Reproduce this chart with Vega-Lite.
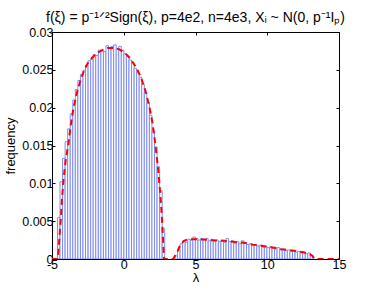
{
  "$schema": "https://vega.github.io/schema/vega-lite/v6.json",
  "autosize": {"type": "none"},
  "width": 287,
  "height": 227,
  "padding": {"left": 52, "top": 32, "right": 35, "bottom": 33},
  "background": "white",
  "config": {
    "view": {"stroke": null},
    "font": "Liberation Sans",
    "axis": {"grid": false, "domainColor": "#000000", "tickColor": "#000000", "labelColor": "#000000", "titleColor": "#000000", "labelFont": "Liberation Sans", "titleFont": "Liberation Sans", "labelFontSize": 12.5, "titleFontSize": 13, "titleFontWeight": "normal", "tickSize": -3, "labelPadding": 2}
  },
  "title": {"text": "f(ξ) = p⁻¹ᐟ²Sign(ξ), p=4e2, n=4e3, Xᵢ ~ N(0, p⁻¹Iₚ)", "font": "Liberation Sans", "fontSize": 14, "fontWeight": "normal", "color": "#000000", "anchor": "middle", "baseline": "bottom", "offset": -13},
  "datasets": {
    "bars": [
      {"lo": -4.620, "hi": -4.442, "f": 0.0055},
      {"lo": -4.442, "hi": -4.264, "f": 0.0102},
      {"lo": -4.264, "hi": -4.086, "f": 0.0133},
      {"lo": -4.086, "hi": -3.908, "f": 0.0155},
      {"lo": -3.908, "hi": -3.730, "f": 0.0172},
      {"lo": -3.730, "hi": -3.552, "f": 0.0192},
      {"lo": -3.552, "hi": -3.374, "f": 0.0210},
      {"lo": -3.374, "hi": -3.196, "f": 0.0224},
      {"lo": -3.196, "hi": -3.018, "f": 0.0236},
      {"lo": -3.018, "hi": -2.840, "f": 0.0244},
      {"lo": -2.840, "hi": -2.662, "f": 0.0249},
      {"lo": -2.662, "hi": -2.484, "f": 0.0256},
      {"lo": -2.484, "hi": -2.306, "f": 0.0262},
      {"lo": -2.306, "hi": -2.128, "f": 0.0264},
      {"lo": -2.128, "hi": -1.950, "f": 0.0270},
      {"lo": -1.950, "hi": -1.772, "f": 0.0269},
      {"lo": -1.772, "hi": -1.594, "f": 0.0276},
      {"lo": -1.594, "hi": -1.416, "f": 0.0275},
      {"lo": -1.416, "hi": -1.238, "f": 0.0274},
      {"lo": -1.238, "hi": -1.060, "f": 0.0282},
      {"lo": -1.060, "hi": -0.882, "f": 0.0278},
      {"lo": -0.882, "hi": -0.704, "f": 0.0281},
      {"lo": -0.704, "hi": -0.526, "f": 0.0283},
      {"lo": -0.526, "hi": -0.348, "f": 0.0278},
      {"lo": -0.348, "hi": -0.170, "f": 0.0281},
      {"lo": -0.170, "hi": 0.008, "f": 0.0276},
      {"lo": 0.008, "hi": 0.186, "f": 0.0271},
      {"lo": 0.186, "hi": 0.364, "f": 0.0268},
      {"lo": 0.364, "hi": 0.542, "f": 0.0263},
      {"lo": 0.542, "hi": 0.720, "f": 0.0259},
      {"lo": 0.720, "hi": 0.898, "f": 0.0252},
      {"lo": 0.898, "hi": 1.076, "f": 0.0246},
      {"lo": 1.076, "hi": 1.254, "f": 0.0240},
      {"lo": 1.254, "hi": 1.432, "f": 0.0231},
      {"lo": 1.432, "hi": 1.610, "f": 0.0220},
      {"lo": 1.610, "hi": 1.788, "f": 0.0207},
      {"lo": 1.788, "hi": 1.966, "f": 0.0190},
      {"lo": 1.966, "hi": 2.144, "f": 0.0170},
      {"lo": 2.144, "hi": 2.322, "f": 0.0148},
      {"lo": 2.322, "hi": 2.500, "f": 0.0122},
      {"lo": 2.500, "hi": 2.678, "f": 0.0090},
      {"lo": 2.678, "hi": 2.856, "f": 0.0040},
      {"lo": 3.568, "hi": 3.746, "f": 0.0004},
      {"lo": 3.746, "hi": 3.924, "f": 0.0013},
      {"lo": 3.924, "hi": 4.102, "f": 0.0020},
      {"lo": 4.102, "hi": 4.280, "f": 0.0024},
      {"lo": 4.280, "hi": 4.458, "f": 0.0022},
      {"lo": 4.458, "hi": 4.636, "f": 0.0026},
      {"lo": 4.636, "hi": 4.814, "f": 0.0025},
      {"lo": 4.814, "hi": 4.992, "f": 0.0029},
      {"lo": 4.992, "hi": 5.170, "f": 0.0027},
      {"lo": 5.170, "hi": 5.348, "f": 0.0025},
      {"lo": 5.348, "hi": 5.526, "f": 0.0027},
      {"lo": 5.526, "hi": 5.704, "f": 0.0026},
      {"lo": 5.704, "hi": 5.882, "f": 0.0027},
      {"lo": 5.882, "hi": 6.060, "f": 0.0024},
      {"lo": 6.060, "hi": 6.238, "f": 0.0026},
      {"lo": 6.238, "hi": 6.416, "f": 0.0024},
      {"lo": 6.416, "hi": 6.594, "f": 0.0025},
      {"lo": 6.594, "hi": 6.772, "f": 0.0023},
      {"lo": 6.772, "hi": 6.950, "f": 0.0025},
      {"lo": 6.950, "hi": 7.128, "f": 0.0022},
      {"lo": 7.128, "hi": 7.306, "f": 0.0027},
      {"lo": 7.306, "hi": 7.484, "f": 0.0023},
      {"lo": 7.484, "hi": 7.662, "f": 0.0024},
      {"lo": 7.662, "hi": 7.840, "f": 0.0021},
      {"lo": 7.840, "hi": 8.018, "f": 0.0023},
      {"lo": 8.018, "hi": 8.196, "f": 0.0020},
      {"lo": 8.196, "hi": 8.374, "f": 0.0024},
      {"lo": 8.374, "hi": 8.552, "f": 0.0021},
      {"lo": 8.552, "hi": 8.730, "f": 0.0019},
      {"lo": 8.730, "hi": 8.908, "f": 0.0020},
      {"lo": 8.908, "hi": 9.086, "f": 0.0018},
      {"lo": 9.086, "hi": 9.264, "f": 0.0019},
      {"lo": 9.264, "hi": 9.442, "f": 0.0017},
      {"lo": 9.442, "hi": 9.620, "f": 0.0018},
      {"lo": 9.620, "hi": 9.798, "f": 0.0016},
      {"lo": 9.798, "hi": 9.976, "f": 0.0017},
      {"lo": 9.976, "hi": 10.154, "f": 0.0015},
      {"lo": 10.154, "hi": 10.332, "f": 0.0016},
      {"lo": 10.332, "hi": 10.510, "f": 0.0014},
      {"lo": 10.510, "hi": 10.688, "f": 0.0013},
      {"lo": 10.688, "hi": 10.866, "f": 0.0015},
      {"lo": 10.866, "hi": 11.044, "f": 0.0012},
      {"lo": 11.044, "hi": 11.222, "f": 0.0013},
      {"lo": 11.222, "hi": 11.400, "f": 0.0011},
      {"lo": 11.400, "hi": 11.578, "f": 0.0012},
      {"lo": 11.578, "hi": 11.756, "f": 0.0010},
      {"lo": 11.756, "hi": 11.934, "f": 0.0011},
      {"lo": 11.934, "hi": 12.112, "f": 0.0009},
      {"lo": 12.112, "hi": 12.290, "f": 0.0010},
      {"lo": 12.290, "hi": 12.468, "f": 0.0008},
      {"lo": 12.468, "hi": 12.646, "f": 0.0009},
      {"lo": 12.646, "hi": 12.824, "f": 0.0007},
      {"lo": 12.824, "hi": 13.002, "f": 0.0008},
      {"lo": 13.002, "hi": 13.180, "f": 0.0005}
    ],
    "curve": [
      {"x": -5, "y": 0}, {"x": -4.6, "y": 0}, {"x": -4.53, "y": 0.0015}, {"x": -4.45, "y": 0.0038},
      {"x": -4.39, "y": 0.0052}, {"x": -4.3, "y": 0.0080}, {"x": -4.2, "y": 0.0105}, {"x": -4.05, "y": 0.0130},
      {"x": -3.86, "y": 0.0152}, {"x": -3.7, "y": 0.0176}, {"x": -3.5, "y": 0.0200}, {"x": -3.26, "y": 0.0220},
      {"x": -3.0, "y": 0.0237}, {"x": -2.75, "y": 0.0250}, {"x": -2.5, "y": 0.0259}, {"x": -2.2, "y": 0.0266},
      {"x": -1.9, "y": 0.0272}, {"x": -1.5, "y": 0.0276}, {"x": -1.1, "y": 0.0279}, {"x": -0.7, "y": 0.0279},
      {"x": -0.3, "y": 0.0277}, {"x": 0.1, "y": 0.0272}, {"x": 0.5, "y": 0.0264}, {"x": 0.9, "y": 0.0252},
      {"x": 1.2, "y": 0.0240}, {"x": 1.5, "y": 0.0223}, {"x": 1.8, "y": 0.0200}, {"x": 2.0, "y": 0.0180},
      {"x": 2.2, "y": 0.0152}, {"x": 2.4, "y": 0.0118}, {"x": 2.55, "y": 0.0085}, {"x": 2.65, "y": 0.0058},
      {"x": 2.73, "y": 0.0030}, {"x": 2.8, "y": 0}, {"x": 3.45, "y": 0}, {"x": 3.6, "y": 0.0005},
      {"x": 3.75, "y": 0.0010}, {"x": 3.85, "y": 0.0015}, {"x": 4.0, "y": 0.0020}, {"x": 4.2, "y": 0.0024},
      {"x": 4.45, "y": 0.0026}, {"x": 5.0, "y": 0.0026}, {"x": 5.5, "y": 0.00258}, {"x": 6.0, "y": 0.0025},
      {"x": 6.5, "y": 0.00245}, {"x": 7.0, "y": 0.0024}, {"x": 7.5, "y": 0.0023}, {"x": 8.0, "y": 0.0022},
      {"x": 8.5, "y": 0.0021}, {"x": 9.0, "y": 0.0019}, {"x": 9.5, "y": 0.0018}, {"x": 10.0, "y": 0.0016},
      {"x": 10.5, "y": 0.0015}, {"x": 11.0, "y": 0.0013}, {"x": 11.5, "y": 0.0012}, {"x": 12.0, "y": 0.00105},
      {"x": 12.5, "y": 0.0009}, {"x": 12.9, "y": 0.0007}, {"x": 13.15, "y": 0.0004}, {"x": 13.3, "y": 0},
      {"x": 15, "y": 0}
    ]
  },
  "layer": [
    {
      "data": {"name": "bars"},
      "mark": {"type": "rect", "fill": "#ffffff", "stroke": "#7d8cf2", "strokeWidth": 1, "clip": true},
      "encoding": {
        "x": {"field": "lo", "type": "quantitative", "scale": {"domain": [-5, 15], "nice": false, "zero": false},
              "axis": {"orient": "bottom", "values": [-5, 0, 5, 10, 15], "labelExpr": "'' + datum.value", "title": "λ", "titlePadding": 1, "labelFlush": false}},
        "x2": {"field": "hi"},
        "y": {"field": "f", "type": "quantitative", "scale": {"domain": [0, 0.03], "nice": false},
              "axis": {"orient": "left", "values": [0, 0.005, 0.01, 0.015, 0.02, 0.025, 0.03], "labelExpr": "'' + datum.value", "title": "frequency", "titlePadding": 4}},
        "y2": {"datum": 0}
      }
    },
    {
      "data": {"name": "curve"},
      "mark": {"type": "line", "color": "#ff0000", "strokeWidth": 2, "strokeDash": [6, 4], "clip": true},
      "encoding": {
        "x": {"field": "x", "type": "quantitative", "axis": {"orient": "top", "values": [-5, 0, 5, 10, 15], "labels": false, "title": null}},
        "y": {"field": "y", "type": "quantitative", "axis": {"orient": "right", "values": [0, 0.005, 0.01, 0.015, 0.02, 0.025, 0.03], "labels": false, "title": null}}
      }
    }
  ],
  "resolve": {"axis": {"x": "independent", "y": "independent"}}
}
